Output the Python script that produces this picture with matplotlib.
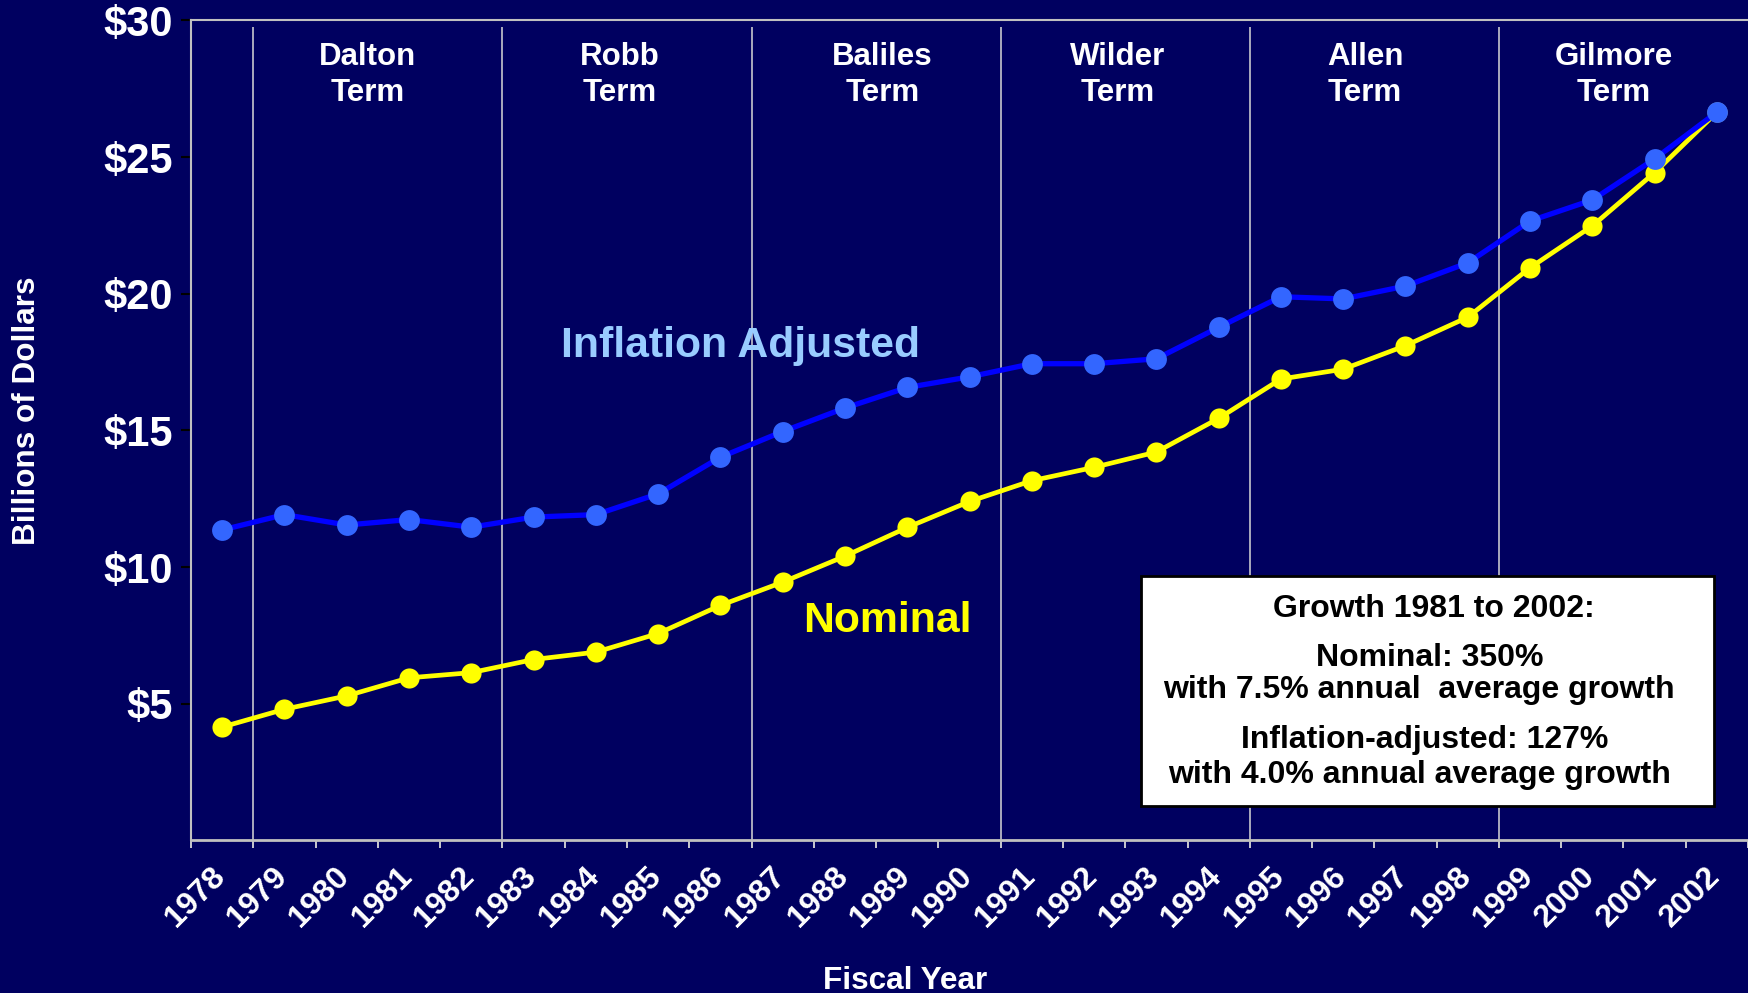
import matplotlib
matplotlib.use('Agg')
import matplotlib.pyplot as plt
import matplotlib.transforms as mtransforms
from matplotlib.patches import Rectangle
import numpy as np

plt.rcParams['font.family'] = ['Liberation Sans', 'DejaVu Sans']
plt.rcParams['font.weight'] = 'bold'

# data (billions of dollars)
years = [str(y) for y in range(1978, 2003)]
nominal = [4.15, 4.80, 5.29, 5.95, 6.14, 6.62, 6.89, 7.57, 8.60, 9.45,
           10.40, 11.45, 12.40, 13.16, 13.65, 14.21, 15.44, 16.88, 17.24, 18.10,
           19.14, 20.95, 22.48, 24.43, 26.64]
adjusted = [11.36, 11.92, 11.54, 11.74, 11.46, 11.83, 11.92, 12.68, 14.02, 14.96,
            15.82, 16.57, 16.96, 17.44, 17.44, 17.62, 18.77, 19.89, 19.81, 20.28,
            21.13, 22.66, 23.43, 24.93, 26.64]
term_names = ['Dalton', 'Robb', 'Baliles', 'Wilder', 'Allen', 'Gilmore']
term_breaks = [0.5, 4.5, 8.5, 12.5, 16.5, 20.5]
yticks = [5, 10, 15, 20, 25, 30]
ytick_labels = ['$5', '$10', '$15', '$20', '$25', '$30']
box_lines = ['Growth 1981 to 2002:',
             'Nominal: 350%',
             'with 7.5% annual  average growth',
             'Inflation-adjusted: 127%',
             'with 4.0% annual average growth']

BG = '#000060'

fig = plt.figure(figsize=(17.48, 9.93), dpi=100, facecolor=BG)
ax = fig.add_axes([0.1093, 0.1536, 0.8907, 0.8259])
ax.set_facecolor(BG)

x = np.arange(len(years))

# term separators
ax.vlines(term_breaks, 0, 29.75, colors='#D8D8D8', linewidth=1.1, zorder=1)

ax.plot(x, nominal, color='#FFFF00', linewidth=3.4, marker='o',
        markersize=14.5, markerfacecolor='#FFFF00', markeredgewidth=0, zorder=3)
ax.plot(x, adjusted, color='#0000FF', linewidth=3.8, marker='o',
        markersize=15, markerfacecolor='#3366FF', markeredgewidth=0, zorder=4)

ax.set_xlim(-0.5, 24.5)
ax.set_ylim(0, 30)

ax.set_yticks(yticks)
ax.set_yticklabels(ytick_labels)
ax.tick_params(axis='y', colors='black', labelcolor='white', labelsize=30,
               length=7, width=1.5, pad=6)

ax.set_xticks(x)
ax.set_xticklabels(years, rotation=45, ha='right')
ax.set_xticks(np.arange(-0.5, 25, 1), minor=True)
ax.tick_params(axis='x', which='major', length=0, labelcolor='white',
               labelsize=23, pad=15)
ax.tick_params(axis='x', which='minor', length=6, width=1.3, color='#D8D8D8')
shift = mtransforms.ScaledTranslation(9 / 100, 0, fig.dpi_scale_trans)
for lab in ax.get_xticklabels():
    lab.set_transform(lab.get_transform() + shift)
    lab.set_fontweight('bold')
for lab in ax.get_yticklabels():
    lab.set_fontweight('bold')

for side in ['top', 'left', 'bottom']:
    ax.spines[side].set_color('#C0C0C0')
    ax.spines[side].set_linewidth(1.5)
ax.spines['bottom'].set_linewidth(2)
ax.spines['right'].set_visible(False)

# term labels
term_x = [2.33, 6.39, 10.6, 14.38, 18.35, 22.34]
for name, tx in zip(term_names, term_x):
    ax.text(tx, 28.0, name + '\nTerm', color='white', fontsize=22.5,
            fontweight='bold', ha='center', va='center', linespacing=1.3)

# series labels
ax.text(8.32, 17.67, 'Inflation Adjusted', color='#99CCFF', fontsize=30.8,
        fontweight='bold', ha='center', va='baseline')
ax.text(10.68, 7.63, 'Nominal', color='#FFFF00', fontsize=30.8,
        fontweight='bold', ha='center', va='baseline')

# info box
box = Rectangle((0.6526, 0.1883), 0.328, 0.2319, transform=fig.transFigure,
                facecolor='white', edgecolor='black', linewidth=2, zorder=6)
fig.patches.append(box)
box_x = [0.8205, 0.8179, 0.8119, 0.8148, 0.8122]
box_y = [0.3789, 0.3293, 0.2968, 0.2464, 0.2118]
for line, bx, by in zip(box_lines, box_x, box_y):
    fig.text(bx, by, line, color='black', fontsize=23, fontweight='bold',
             ha='center', va='baseline', zorder=7)

# axis titles
fig.text(0.0153, 0.586, 'Billions of Dollars', color='white', fontsize=22.7,
         fontweight='bold', rotation=90, ha='center', va='center')
fig.text(0.518, 0.004, 'Fiscal Year', color='white', fontsize=22.7,
         fontweight='bold', ha='center', va='baseline')

fig.savefig('out.png', dpi=100, facecolor=BG)
